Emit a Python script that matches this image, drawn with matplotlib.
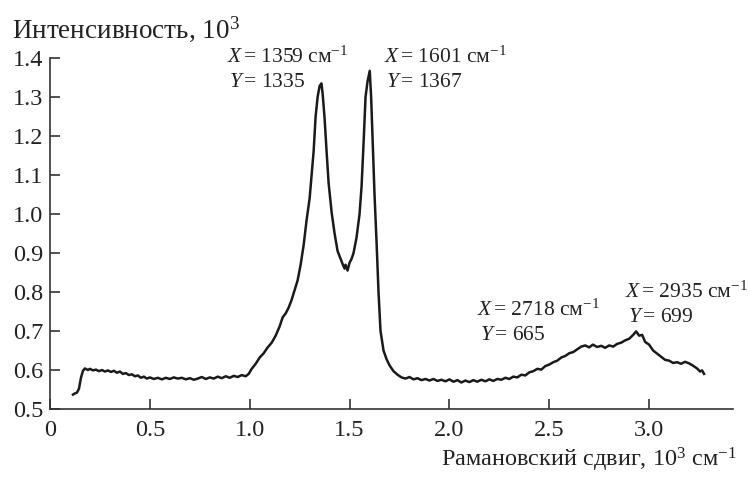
import matplotlib
matplotlib.use("Agg")
from matplotlib import pyplot as plt

# Raman spectrum (x in 10^3 cm^-1, y in 10^3 counts)
shift = [0.115, 0.125, 0.135, 0.145, 0.155, 0.165, 0.175, 0.19, 0.20, 0.215,
         0.23, 0.245, 0.26, 0.275, 0.29, 0.305, 0.32, 0.335, 0.35, 0.365,
         0.38, 0.395, 0.41, 0.425, 0.44, 0.455, 0.47, 0.485, 0.50, 0.52,
         0.54, 0.56, 0.58, 0.60, 0.62, 0.64, 0.66, 0.68, 0.70, 0.72,
         0.74, 0.76, 0.78, 0.80, 0.82, 0.84, 0.86, 0.88, 0.90, 0.92,
         0.94, 0.96, 0.98, 0.995, 1.01, 1.03, 1.05, 1.07, 1.09, 1.11,
         1.13, 1.15, 1.165, 1.18, 1.195, 1.21, 1.225, 1.24, 1.255, 1.27,
         1.285, 1.30, 1.31, 1.32, 1.33, 1.34, 1.35, 1.359, 1.365, 1.375,
         1.385, 1.395, 1.41, 1.425, 1.44, 1.455, 1.465, 1.475, 1.48, 1.49,
         1.50, 1.51, 1.52, 1.535, 1.55, 1.56, 1.57, 1.58, 1.59, 1.601,
         1.608, 1.615, 1.625, 1.635, 1.645, 1.655, 1.67, 1.685, 1.70, 1.72,
         1.74, 1.76, 1.78, 1.80, 1.82, 1.84, 1.86, 1.88, 1.90, 1.92,
         1.94, 1.96, 1.98, 2.00, 2.02, 2.04, 2.06, 2.08, 2.10, 2.12,
         2.14, 2.16, 2.18, 2.20, 2.22, 2.24, 2.26, 2.28, 2.30, 2.32,
         2.34, 2.36, 2.38, 2.40, 2.42, 2.44, 2.46, 2.48, 2.50, 2.52,
         2.54, 2.56, 2.58, 2.60, 2.62, 2.64, 2.66, 2.68, 2.70, 2.718,
         2.74, 2.76, 2.78, 2.80, 2.82, 2.84, 2.86, 2.88, 2.90, 2.92,
         2.935, 2.95, 2.965, 2.98, 3.00, 3.02, 3.04, 3.06, 3.08, 3.10,
         3.12, 3.14, 3.16, 3.18, 3.20, 3.22, 3.24, 3.255, 3.265, 3.275]
intens = [0.537, 0.540, 0.542, 0.552, 0.580, 0.598, 0.604, 0.600, 0.603, 0.599,
          0.601, 0.597, 0.600, 0.596, 0.599, 0.595, 0.598, 0.593, 0.596, 0.590,
          0.592, 0.587, 0.589, 0.584, 0.586, 0.580, 0.583, 0.578, 0.581, 0.577,
          0.580, 0.576, 0.580, 0.577, 0.581, 0.578, 0.580, 0.576, 0.579, 0.575,
          0.578, 0.582, 0.577, 0.581, 0.578, 0.583, 0.579, 0.584, 0.580, 0.585,
          0.582, 0.587, 0.584, 0.590, 0.603, 0.616, 0.632, 0.643, 0.658, 0.670,
          0.688, 0.712, 0.735, 0.745, 0.760, 0.780, 0.805, 0.830, 0.870, 0.920,
          0.985, 1.040, 1.100, 1.160, 1.250, 1.300, 1.328, 1.335, 1.310, 1.245,
          1.160, 1.080, 1.005, 0.950, 0.905, 0.885, 0.872, 0.860, 0.870, 0.855,
          0.875, 0.885, 0.900, 0.940, 1.000, 1.070, 1.180, 1.300, 1.340, 1.367,
          1.300, 1.200, 1.050, 0.930, 0.800, 0.700, 0.650, 0.628, 0.612, 0.597,
          0.588, 0.581, 0.578, 0.582, 0.576, 0.579, 0.574, 0.577, 0.573, 0.577,
          0.572, 0.575, 0.571, 0.576, 0.570, 0.574, 0.568, 0.573, 0.569, 0.574,
          0.570, 0.575, 0.571, 0.576, 0.572, 0.577, 0.575, 0.580, 0.577, 0.583,
          0.581, 0.588, 0.586, 0.594, 0.597, 0.603, 0.601, 0.610, 0.614, 0.620,
          0.624, 0.632, 0.636, 0.643, 0.646, 0.653, 0.660, 0.663, 0.658, 0.665,
          0.659, 0.662, 0.657, 0.663, 0.660, 0.667, 0.670, 0.676, 0.680, 0.690,
          0.699, 0.688, 0.690, 0.672, 0.665, 0.650, 0.642, 0.634, 0.626, 0.624,
          0.618, 0.620, 0.616, 0.621, 0.617, 0.611, 0.604, 0.596, 0.599, 0.590]

x_ticks = [0, 0.5, 1.0, 1.5, 2.0, 2.5, 3.0]
x_labels = ["0", "0.5", "1.0", "1.5", "2.0", "2.5", "3.0"]
y_ticks = [0.5, 0.6, 0.7, 0.8, 0.9, 1.0, 1.1, 1.2, 1.3, 1.4]
y_labels = ["0.5", "0.6", "0.7", "0.8", "0.9", "1.0", "1.1", "1.2", "1.3", "1.4"]

# peak annotations: (X text, Y text, x position, y position of first line)
peak_x = [1359, 1601, 2718, 2935]
peak_y = [1335, 1367, 665, 699]
label_pos = [(0.885, 1.403), (1.672, 1.403), (2.140, 0.754), (2.880, 0.800)]

plt.rcParams['font.family'] = ['Liberation Serif', 'DejaVu Serif']
plt.rcParams['mathtext.fontset'] = 'custom'
plt.rcParams['mathtext.rm'] = 'Liberation Serif'
plt.rcParams['mathtext.it'] = 'Liberation Serif:italic'

fig = plt.figure(figsize=(7.51, 4.82), dpi=100)
ax = fig.add_axes([50 / 751, 73 / 482, 683 / 751, 351 / 482])

ax.plot(shift, intens, color='#1a1a1a', linewidth=1.8)

ax.set_xlim(0, 3.42)
ax.set_ylim(0.5, 1.4)
ax.set_xticks(x_ticks)
ax.set_xticklabels(x_labels)
ax.set_yticks(y_ticks)
ax.set_yticklabels(y_labels)

for side in ['top', 'right']:
    ax.spines[side].set_visible(False)
for side in ['left', 'bottom']:
    ax.spines[side].set_linewidth(1.2)
    ax.spines[side].set_color('#333333')

ax.tick_params(direction='in', length=7, width=1.2, color='#333333',
               labelsize=17.5, labelcolor='#222222')
ax.tick_params(axis='y', pad=5)
ax.tick_params(axis='x', pad=8)

# annotations of the peaks
for px, py, (tx, ty) in zip(peak_x, peak_y, label_pos):
    ax.text(tx, ty, r"$X\,$= %d см$^{-1}$" % px, fontsize=15.5,
            color='#222222', ha='left', va='center')
    ax.text(tx + 0.012, ty - 0.065, r"$Y\,$= %d" % py, fontsize=15.5,
            color='#222222', ha='left', va='center')

# axis titles
fig.text(12 / 751, 1 - 38 / 482, r"Интенсивность, 10$^{3}$", fontsize=19.5,
         color='#222222', ha='left', va='baseline')
fig.text(737 / 751, 1 - 467 / 482, r"Рамановский сдвиг, 10$^{3}$ см$^{-1}$",
         fontsize=17.5, color='#222222', ha='right', va='baseline')

fig.savefig('out.png', dpi=100)
